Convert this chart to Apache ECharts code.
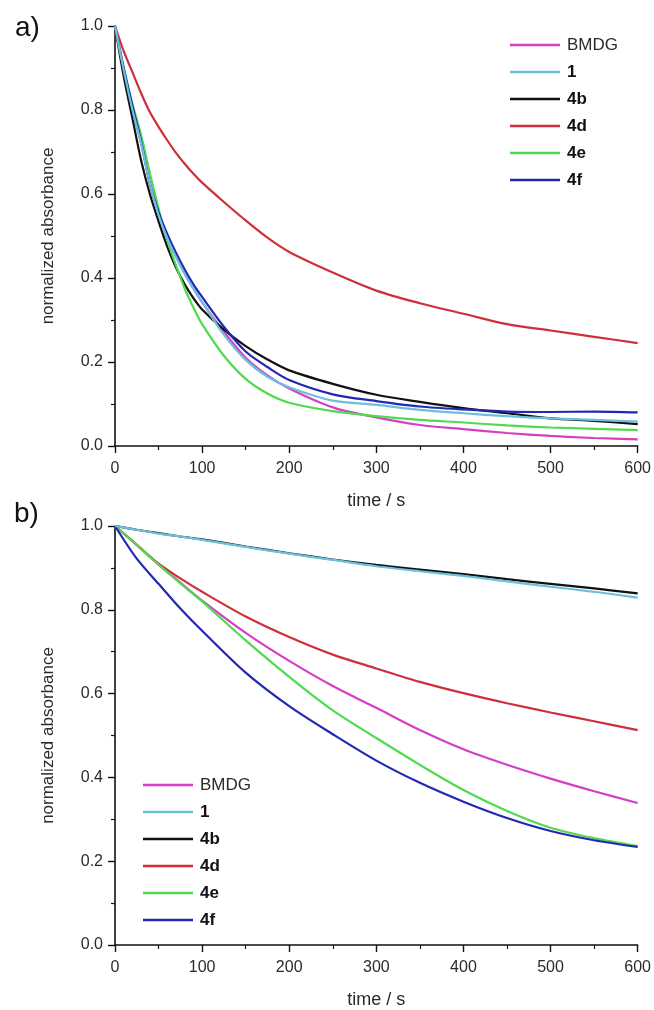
<!DOCTYPE html>
<html>
<head>
<meta charset="utf-8">
<script src="https://cdn.jsdelivr.net/npm/echarts@6/dist/echarts.min.js"></script>
<style>
  html, body { margin: 0; padding: 0; background: #fff; }
  #chart { width: 654px; height: 1010px; }
</style>
</head>
<body>
<div id="chart"></div>
<script>
// Panel a) time points (s) and normalized absorbance per compound
const timeA = [0, 10, 20, 30, 40, 50, 60, 70, 80, 90, 100, 125, 150, 175, 200, 250, 300, 350, 400, 450, 500, 550, 600];
const a_BMDG = [1.0, 0.895, 0.80, 0.72, 0.625, 0.553, 0.50, 0.452, 0.41, 0.375, 0.342, 0.272, 0.21, 0.168, 0.137, 0.092, 0.068, 0.05, 0.04, 0.031, 0.024, 0.019, 0.016];
const a_1    = [1.0, 0.895, 0.80, 0.72, 0.625, 0.55, 0.495, 0.45, 0.41, 0.375, 0.343, 0.265, 0.205, 0.165, 0.14, 0.108, 0.098, 0.086, 0.078, 0.071, 0.066, 0.062, 0.058];
const a_4b   = [1.0, 0.88, 0.78, 0.68, 0.60, 0.535, 0.475, 0.425, 0.385, 0.352, 0.325, 0.277, 0.238, 0.206, 0.18, 0.148, 0.122, 0.105, 0.09, 0.078, 0.066, 0.06, 0.052];
const a_4d   = [1.0, 0.94, 0.89, 0.84, 0.795, 0.76, 0.728, 0.698, 0.672, 0.648, 0.627, 0.581, 0.537, 0.496, 0.462, 0.413, 0.37, 0.34, 0.315, 0.29, 0.275, 0.26, 0.245];
const a_4e   = [1.0, 0.90, 0.815, 0.74, 0.65, 0.565, 0.49, 0.43, 0.375, 0.33, 0.29, 0.215, 0.16, 0.125, 0.103, 0.083, 0.071, 0.062, 0.056, 0.049, 0.044, 0.041, 0.038];
const a_4f   = [1.0, 0.90, 0.81, 0.725, 0.625, 0.557, 0.505, 0.46, 0.42, 0.385, 0.355, 0.284, 0.225, 0.188, 0.157, 0.123, 0.107, 0.094, 0.087, 0.082, 0.081, 0.082, 0.08];

// Panel b) time points (s) and normalized absorbance per compound
const timeB = [0, 25, 50, 75, 100, 150, 200, 250, 300, 350, 400, 450, 500, 550, 600];
const b_BMDG = [1.0, 0.955, 0.908, 0.865, 0.822, 0.745, 0.678, 0.618, 0.566, 0.513, 0.467, 0.430, 0.397, 0.367, 0.339];
const b_1    = [1.0, 0.991, 0.982, 0.975, 0.967, 0.950, 0.934, 0.919, 0.904, 0.892, 0.881, 0.868, 0.855, 0.843, 0.829];
const b_4b   = [1.0, 0.991, 0.983, 0.975, 0.968, 0.951, 0.935, 0.920, 0.907, 0.896, 0.885, 0.873, 0.862, 0.851, 0.839];
const b_4d   = [1.0, 0.955, 0.910, 0.875, 0.843, 0.784, 0.735, 0.693, 0.660, 0.628, 0.601, 0.577, 0.555, 0.534, 0.513];
const b_4e   = [1.0, 0.955, 0.908, 0.863, 0.820, 0.727, 0.640, 0.560, 0.494, 0.430, 0.370, 0.320, 0.280, 0.255, 0.236];
const b_4f   = [1.0, 0.922, 0.862, 0.803, 0.750, 0.650, 0.570, 0.503, 0.440, 0.387, 0.342, 0.303, 0.272, 0.250, 0.234];

const names  = ['BMDG', '1', '4b', '4d', '4e', '4f'];
const colors = ['#d43fc6', '#6cc0dc', '#111111', '#cf2f3b', '#4fda4f', '#2228b4'];
const seriesA = [a_BMDG, a_1, a_4b, a_4d, a_4e, a_4f];
const seriesB = [b_BMDG, b_1, b_4b, b_4d, b_4e, b_4f];
const xTicks = [0, 100, 200, 300, 400, 500, 600];
const yTicks = [0.0, 0.2, 0.4, 0.6, 0.8, 1.0];

const FONT = '"Liberation Sans", Arial, sans-serif';
const TXT = '#2a2a2a';

function pairs(t, v) { return t.map((x, i) => [x, v[i]]); }

function xAxisCfg(idx) {
  return {
    gridIndex: idx, type: 'value', min: xTicks[0], max: xTicks[xTicks.length - 1], interval: xTicks[1] - xTicks[0],
    name: 'time / s', nameLocation: 'middle', nameGap: 46,
    nameTextStyle: { fontFamily: FONT, fontSize: 18, color: TXT },
    axisLine: { show: true, onZero: false, lineStyle: { color: '#111', width: 1.6 } },
    axisTick: { show: true, inside: false, length: 7, lineStyle: { color: '#111', width: 1.4 } },
    minorTick: { show: true, splitNumber: 2, length: 4, lineStyle: { color: '#111', width: 1.2 } },
    axisLabel: { fontFamily: FONT, fontSize: 16, color: TXT, margin: 15 },
    splitLine: { show: false }
  };
}
function yAxisCfg(idx) {
  return {
    gridIndex: idx, type: 'value', min: yTicks[0], max: yTicks[yTicks.length - 1], interval: 0.2,
    name: 'normalized absorbance', nameLocation: 'middle', nameGap: 58, nameRotate: 90,
    nameTextStyle: { fontFamily: FONT, fontSize: 17, color: TXT },
    axisLine: { show: true, onZero: false, lineStyle: { color: '#111', width: 1.6 } },
    axisTick: { show: true, inside: false, length: 7, lineStyle: { color: '#111', width: 1.4 } },
    minorTick: { show: true, splitNumber: 2, length: 4, lineStyle: { color: '#111', width: 1.2 } },
    axisLabel: { fontFamily: FONT, fontSize: 16, color: TXT, margin: 12, formatter: v => v.toFixed(1) },
    splitLine: { show: false }
  };
}
function legendCfg(pos) {
  return Object.assign({
    orient: 'vertical', data: names, icon: 'rect', itemWidth: 50, itemHeight: 2.5, itemGap: 9,
    selectedMode: false,
    formatter: n => n === 'BMDG' ? '{n|' + n + '}' : '{b|' + n + '}',
    textStyle: {
      fontFamily: FONT, fontSize: 17, color: TXT, lineHeight: 18, padding: [0, 0, 0, 2],
      rich: { n: { fontWeight: 'normal', fontSize: 17, fontFamily: FONT, color: TXT },
              b: { fontWeight: 'bold', fontSize: 17, fontFamily: FONT, color: '#111' } }
    }
  }, pos);
}

const series = [];
[seriesA, seriesB].forEach((set, gi) => {
  const t = gi === 0 ? timeA : timeB;
  set.forEach((vals, i) => {
    series.push({
      name: names[i], type: 'line', xAxisIndex: gi, yAxisIndex: gi,
      data: pairs(t, vals), showSymbol: false, smooth: 0.3, silent: true,
      lineStyle: { color: colors[i], width: 2.2 }, itemStyle: { color: colors[i] },
      z: i === 1 ? 3 : 2
    });
  });
});

const chart = echarts.init(document.getElementById('chart'), null, { renderer: 'canvas' });
chart.setOption({
  animation: false,
  backgroundColor: '#fff',
  color: colors,
  grid: [
    { left: 115, top: 26, width: 523, height: 420 },
    { left: 115, top: 526, width: 523, height: 420 }
  ],
  xAxis: [xAxisCfg(0), xAxisCfg(1)],
  yAxis: [yAxisCfg(0), yAxisCfg(1)],
  legend: [
    legendCfg({ left: 505, top: 31 }),
    legendCfg({ left: 138, top: 771 })
  ],
  graphic: [
    { type: 'text', left: 15, top: 14, style: { text: 'a)', font: '28px ' + FONT, fill: '#111' } },
    { type: 'text', left: 14, top: 500, style: { text: 'b)', font: '28px ' + FONT, fill: '#111' } }
  ],
  series: series
});
</script>
</body>
</html>
